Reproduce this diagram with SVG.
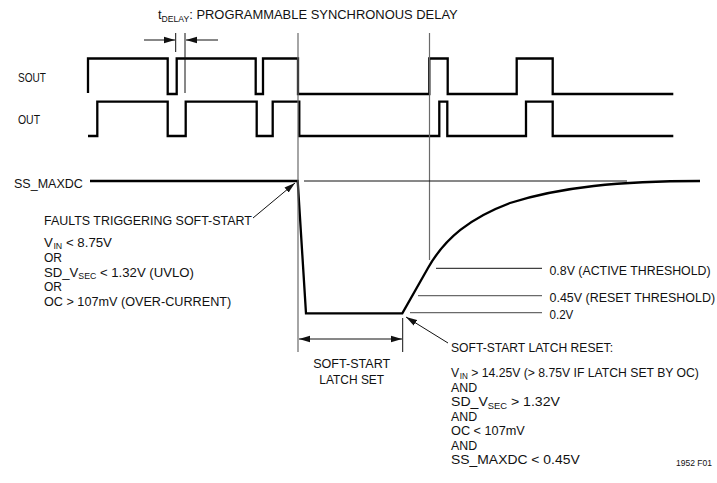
<svg xmlns="http://www.w3.org/2000/svg" width="717" height="483" viewBox="0 0 717 483">
<style>
.t{font-family:"Liberation Sans",Arial,sans-serif;font-size:13.5px;fill:#111}
.s{font-size:9px}
.wave{fill:none;stroke:#000;stroke-width:2.3;stroke-linejoin:miter}
.thin{fill:none;stroke:#111;stroke-width:1}
.gray{fill:none;stroke:#6a6a6a;stroke-width:1.2}
</style>
<defs>
<marker id="ah" markerUnits="userSpaceOnUse" markerWidth="12" markerHeight="8" refX="11" refY="4" orient="auto"><path d="M0,0.8 L11,4 L0,7.2 Z" fill="#111"/></marker>
<marker id="ahs" markerUnits="userSpaceOnUse" markerWidth="12" markerHeight="8" refX="11" refY="4" orient="auto-start-reverse"><path d="M0,0.8 L11,4 L0,7.2 Z" fill="#111"/></marker>
</defs>
<g id="title"><text class="t" transform="translate(158,19) scale(0.9,1)" textLength="333" lengthAdjust="spacingAndGlyphs">t<tspan class="s" dy="2.5">DELAY</tspan><tspan dy="-2.5">: PROGRAMMABLE SYNCHRONOUS DELAY</tspan></text></g>
<g id="sout"><text class="t" transform="translate(18,82) scale(0.9,1)" textLength="31" lengthAdjust="spacingAndGlyphs">SOUT</text>
<path class="wave" d="M88,93 V58.5 H167.7 V94 H176.7 V58.5 H255.7 V94 H263 V58.5 H298 V94 H429.3 V58.5 H447.7 V94 H516.7 V58.5 H552.7 V94 H673.3"/></g>
<g id="out"><text class="t" transform="translate(18,124) scale(0.9,1)" textLength="24.5" lengthAdjust="spacingAndGlyphs">OUT</text>
<path class="wave" d="M88,136 H97.3 V101.7 H167.7 V136 H185.7 V101.7 H256.7 V136 H272.7 V101.7 H299.3 V136 H439.3 V101.7 H447.3 V136 H526 V101.7 H552.7 V136 H673.3"/></g>
<g id="ss_maxdc"><text class="t" transform="translate(14,188) scale(0.9,1)" textLength="76.5" lengthAdjust="spacingAndGlyphs">SS_MAXDC</text>
<path class="wave" d="M90,181 H297.7 L306,313.3 H402.3 L428,268 C445,238 470,218 510,203 C560,187 620,181 700,181"/></g>
<g id="faults"><text class="t" transform="translate(44,225) scale(0.9,1)" textLength="231" lengthAdjust="spacingAndGlyphs">FAULTS TRIGGERING SOFT-START</text>
<text class="t" transform="translate(44,246.5) scale(0.9,1)" textLength="75.5" lengthAdjust="spacingAndGlyphs">V<tspan class="s" dx="0.6" dy="2.2">IN</tspan><tspan dy="-2.2"> &lt; 8.75V</tspan></text>
<text class="t" transform="translate(44,261.5) scale(0.9,1)" textLength="20" lengthAdjust="spacingAndGlyphs">OR</text>
<text class="t" transform="translate(44,276.5) scale(0.9,1)" textLength="166.5" lengthAdjust="spacingAndGlyphs">SD_V<tspan class="s" dy="2.5">SEC</tspan><tspan dy="-2.5"> &lt; 1.32V (UVLO)</tspan></text>
<text class="t" transform="translate(44,291) scale(0.9,1)" textLength="20" lengthAdjust="spacingAndGlyphs">OR</text>
<text class="t" transform="translate(44,305.5) scale(0.9,1)" textLength="208" lengthAdjust="spacingAndGlyphs">OC &gt; 107mV (OVER-CURRENT)</text></g>
<g id="thresholds">
<text class="t" transform="translate(549.5,274.5) scale(0.9,1)" textLength="179" lengthAdjust="spacingAndGlyphs">0.8V (ACTIVE THRESHOLD)</text>
<text class="t" transform="translate(549.5,301.5) scale(0.9,1)" textLength="184" lengthAdjust="spacingAndGlyphs">0.45V (RESET THRESHOLD)</text>
<text class="t" transform="translate(549.5,318.5) scale(0.9,1)" textLength="26.5" lengthAdjust="spacingAndGlyphs">0.2V</text></g>
<g id="latchset"><text class="t" transform="translate(351.7,368) scale(0.9,1)" text-anchor="middle" textLength="85.5" lengthAdjust="spacingAndGlyphs">SOFT-START</text>
<text class="t" transform="translate(351.7,384) scale(0.9,1)" text-anchor="middle" textLength="72" lengthAdjust="spacingAndGlyphs">LATCH SET</text></g>
<g id="latchreset"><text class="t" transform="translate(451,352) scale(0.9,1)" textLength="180" lengthAdjust="spacingAndGlyphs">SOFT-START LATCH RESET:</text>
<text class="t" transform="translate(451,377) scale(0.9,1)" textLength="275.5" lengthAdjust="spacingAndGlyphs">V<tspan class="s" dx="0.6" dy="2.2">IN</tspan><tspan dy="-2.2"> &gt; 14.25V (&gt; 8.75V IF LATCH SET BY OC)</tspan></text>
<text class="t" transform="translate(451,391.5) scale(0.9,1)" textLength="29" lengthAdjust="spacingAndGlyphs">AND</text>
<text class="t" transform="translate(451,406) scale(0.9,1)" textLength="121" lengthAdjust="spacingAndGlyphs">SD_V<tspan class="s" dy="2.5">SEC</tspan><tspan dy="-2.5"> &gt; 1.32V</tspan></text>
<text class="t" transform="translate(451,420.5) scale(0.9,1)" textLength="29" lengthAdjust="spacingAndGlyphs">AND</text>
<text class="t" transform="translate(451,435) scale(0.9,1)" textLength="82" lengthAdjust="spacingAndGlyphs">OC &lt; 107mV</text>
<text class="t" transform="translate(451,449.5) scale(0.9,1)" textLength="29" lengthAdjust="spacingAndGlyphs">AND</text>
<text class="t" transform="translate(451,464) scale(0.9,1)" textLength="143" lengthAdjust="spacingAndGlyphs">SS_MAXDC &lt; 0.45V</text></g>
<g id="figid"><text class="t" transform="translate(712,466) scale(0.9,1)" text-anchor="end" style="font-size:8.5px" textLength="40" lengthAdjust="spacingAndGlyphs">1952 F01</text></g>
<g id="connectors">
<line class="gray" x1="298" y1="33" x2="298" y2="352"/>
<line class="gray" x1="429.5" y1="33" x2="429.5" y2="260"/>
<line class="thin" x1="175.7" y1="33" x2="175.7" y2="52"/>
<line class="thin" x1="185" y1="33" x2="185" y2="93"/>
<line class="thin" x1="144" y1="40" x2="175" y2="40" marker-end="url(#ah)"/>
<line class="thin" x1="218" y1="40" x2="186" y2="40" marker-end="url(#ah)"/>
<line class="thin" x1="304" y1="181" x2="627" y2="181"/>
<line class="thin" x1="436" y1="268.3" x2="542" y2="268.3"/>
<line class="gray" x1="418" y1="295.7" x2="542" y2="295.7"/>
<line class="gray" x1="410" y1="312.7" x2="542" y2="312.7"/>
<line class="thin" x1="402.7" y1="318" x2="402.7" y2="352"/>
<line class="thin" x1="299" y1="339" x2="402" y2="339" marker-start="url(#ahs)" marker-end="url(#ahs)"/>
<line class="thin" x1="253" y1="218" x2="295" y2="183" marker-end="url(#ah)"/>
<line class="thin" x1="448" y1="343" x2="406" y2="317" marker-end="url(#ah)"/>
</g>
</svg>
